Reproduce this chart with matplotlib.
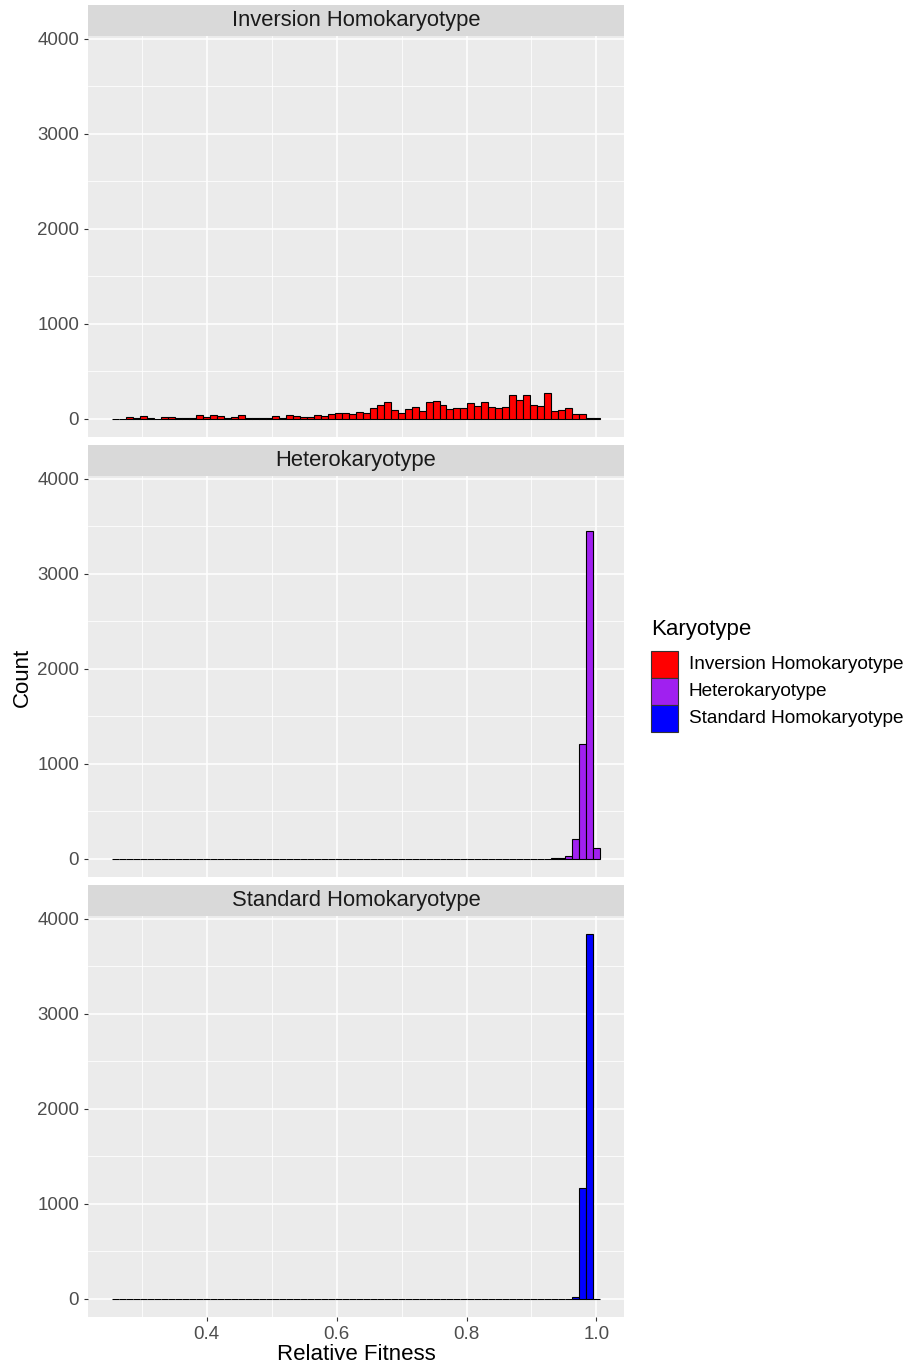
import matplotlib
matplotlib.use("Agg")
import matplotlib.pyplot as plt
from matplotlib.patches import Rectangle
from matplotlib.ticker import MultipleLocator, FixedLocator

plt.rcParams['font.family'] = ['Liberation Sans', 'DejaVu Sans']

# histogram bins shared by all facets (70 bins)
bin_start = 0.2546
bin_width = 0.01072
n_bins = 70

panels = ['Inversion Homokaryotype', 'Heterokaryotype', 'Standard Homokaryotype']
colors = ['#FF0000', '#A020F0', '#0000FF']

inversion_counts = [
    2, 2, 17, 3, 28, 7, 2, 15, 14, 12, 12, 13, 38, 15, 38, 33, 4, 18,
    38, 3, 3, 12, 4, 30, 4, 40, 28, 17, 17, 38, 25, 52, 66, 66, 49, 70,
    56, 115, 140, 175, 91, 63, 101, 122, 87, 175, 185, 143, 101, 115, 115, 161, 133, 178,
    122, 112, 126, 252, 200, 255, 147, 133, 270, 84, 95, 115, 52, 52, 10, 3,
]
hetero_counts = [
    0, 0, 0, 0, 0, 0, 0, 0, 0, 0, 0, 0, 0, 0, 0, 0, 0, 0,
    0, 0, 0, 0, 0, 0, 0, 0, 0, 0, 0, 0, 0, 0, 0, 0, 0, 0,
    0, 0, 0, 0, 0, 0, 0, 0, 0, 0, 0, 0, 0, 0, 0, 0, 0, 0,
    0, 0, 0, 0, 0, 0, 0, 0, 2, 3, 6, 28, 213, 1204, 3454, 112,
]
standard_counts = [
    0, 0, 0, 0, 0, 0, 0, 0, 0, 0, 0, 0, 0, 0, 0, 0, 0, 0,
    0, 0, 0, 0, 0, 0, 0, 0, 0, 0, 0, 0, 0, 0, 0, 0, 0, 0,
    0, 0, 0, 0, 0, 0, 0, 0, 0, 0, 0, 0, 0, 0, 0, 0, 0, 0,
    0, 0, 0, 0, 0, 0, 0, 0, 0, 0, 0, 0, 18, 1162, 3839, 0,
]
all_counts = [inversion_counts, hetero_counts, standard_counts]

lefts = [bin_start + i * bin_width for i in range(n_bins)]
x_lo = bin_start
x_hi = bin_start + n_bins * bin_width
x_pad = 0.05 * (x_hi - x_lo)
y_max = max(max(c) for c in all_counts)

W, H = 908, 1369
fig = plt.figure(figsize=(W / 100, H / 100), dpi=100)

panel_left = 88 / W
panel_w = 536 / W
panel_tops = [36, 476, 916]   # pixel rows of panel tops
panel_h = 401
strip_h = 31

grey_txt = '#4D4D4D'
tick_kw = dict(length=3.1, width=0.8, color='#333333', labelsize=13.5,
               labelcolor=grey_txt, pad=3.3)

for k, (name, counts, col) in enumerate(zip(panels, all_counts, colors)):
    top = panel_tops[k]
    ax = fig.add_axes([panel_left, 1 - (top + panel_h) / H, panel_w, panel_h / H])
    ax.set_facecolor('#EBEBEB')
    ax.bar(lefts, counts, width=bin_width, align='edge', color=col,
           edgecolor='black', linewidth=0.8, zorder=3)
    ax.set_xlim(x_lo - x_pad, x_hi + x_pad)
    ax.set_ylim(-0.05 * y_max, 1.05 * y_max)
    ax.xaxis.set_major_locator(FixedLocator([0.4, 0.6, 0.8, 1.0]))
    ax.xaxis.set_minor_locator(FixedLocator([0.3, 0.5, 0.7, 0.9]))
    ax.yaxis.set_major_locator(MultipleLocator(1000))
    ax.yaxis.set_minor_locator(MultipleLocator(500))
    ax.grid(which='major', color='white', linewidth=1.1, zorder=0)
    ax.grid(which='minor', color='white', linewidth=0.55, zorder=0)
    ax.set_axisbelow(True)
    for s in ax.spines.values():
        s.set_visible(False)
    ax.tick_params(axis='y', which='major', **tick_kw)
    ax.tick_params(which='minor', length=0)
    if k < 2:
        ax.tick_params(axis='x', which='major', length=0, labelbottom=False)
    else:
        ax.tick_params(axis='x', which='major', **tick_kw)
        ax.set_xticklabels(['0.4', '0.6', '0.8', '1.0'])

    # facet strip
    sax = fig.add_axes([panel_left, 1 - top / H, panel_w, strip_h / H])
    sax.set_facecolor('#D9D9D9')
    sax.set_xticks([])
    sax.set_yticks([])
    for s in sax.spines.values():
        s.set_visible(False)
    sax.text(0.5, 0.5, name, ha='center', va='center', fontsize=15.8, color='#1A1A1A',
             transform=sax.transAxes)

fig.text(22 / W, 1 - 677 / H, 'Count', rotation=90, ha='center', va='center', fontsize=16)
fig.text(356 / W, 1 - 1355 / H, 'Relative Fitness', ha='center', va='center', fontsize=16)

# legend drawn by hand to match ggplot's key layout
fig.text(651 / W, 1 - 630 / H, 'Karyotype', ha='left', va='center', fontsize=16)
key_top = 651
key_size = 27
for i, (lab, col) in enumerate(zip(panels, colors)):
    y0 = key_top + i * key_size
    fig.add_artist(Rectangle((651 / W, 1 - (y0 + key_size) / H), key_size / W, key_size / H,
                             transform=fig.transFigure, facecolor=col,
                             edgecolor='#333333', linewidth=0.8))
    fig.text(689 / W, 1 - (y0 + key_size / 2) / H, lab, ha='left', va='center',
             fontsize=13.7)

fig.savefig('out.png', dpi=100)
